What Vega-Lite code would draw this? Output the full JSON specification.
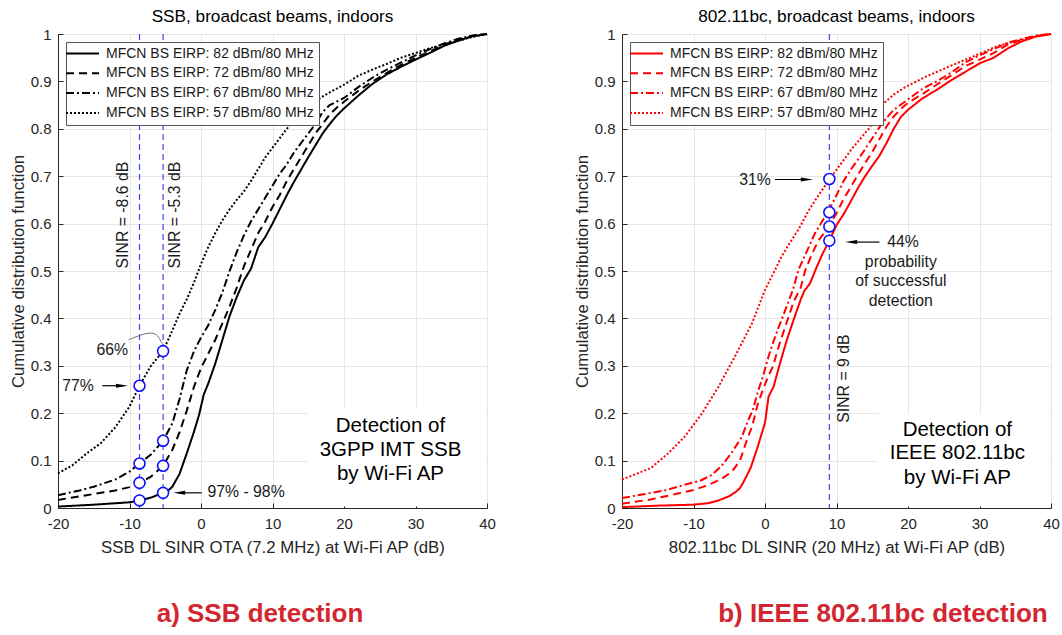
{
  "$schema": "https://vega.github.io/schema/vega-lite/v6.json",
  "background": "white",
  "padding": {"left": 9, "top": 7, "right": 3, "bottom": 5},
  "spacing": 135,
  "bounds": "flush",
  "resolve": {"scale": {"strokeDash": "independent", "x": "independent", "y": "independent"}, "legend": {"strokeDash": "independent"}},
  "config": {
    "font": "Liberation Sans",
    "view": {"stroke": "#262626", "strokeWidth": 1},
    "axis": {"labelFont": "Liberation Sans", "labelFontSize": 15, "labelColor": "#262626", "labelFlush": false, "labelOverlap": false, "titleFont": "Liberation Sans", "titleFontWeight": "normal", "titleColor": "#262626", "domainColor": "#262626", "gridColor": "#e6e6e6", "ticks": true, "tickSize": -5, "tickColor": "#262626", "tickWidth": 1},
    "axisX": {"labelPadding": 13, "titlePadding": 8, "titleFontSize": 16.8},
    "axisY": {"labelPadding": 12, "titlePadding": 3, "titleFontSize": 16.8},
    "title": {"font": "Liberation Sans", "fontSize": 17.2, "fontWeight": "normal", "color": "#000000", "offset": 2},
    "legend": {"orient": "top-left", "offset": 8, "padding": 4.5, "rowPadding": 5.8, "fillColor": "white", "strokeColor": "#555555", "labelFont": "Liberation Sans", "labelFontSize": 14, "labelColor": "#1a1a1a", "labelLimit": 400, "symbolType": "M-3,0H3", "symbolSize": 121, "symbolStrokeWidth": 2, "symbolOffset": 5, "labelOffset": 16.5, "titlePadding": 0}
  },
  "datasets": {
    "A": [
      {"s":"82","x":-20,"y":0.003},{"s":"82","x":-15,"y":0.007},{"s":"82","x":-10,"y":0.012},{"s":"82","x":-8.6,"y":0.016},{"s":"82","x":-7,"y":0.022},{"s":"82","x":-5.3,"y":0.032},{"s":"82","x":-4.5,"y":0.038},{"s":"82","x":-4,"y":0.045},{"s":"82","x":-3,"y":0.072},{"s":"82","x":-2,"y":0.115},{"s":"82","x":-1,"y":0.16},{"s":"82","x":-0.3,"y":0.195},{"s":"82","x":0.4,"y":0.24},{"s":"82","x":1,"y":0.262},{"s":"82","x":2,"y":0.305},{"s":"82","x":3,"y":0.355},{"s":"82","x":4,"y":0.405},{"s":"82","x":5,"y":0.445},{"s":"82","x":6,"y":0.48},{"s":"82","x":7,"y":0.505},{"s":"82","x":8,"y":0.55},{"s":"82","x":9,"y":0.572},{"s":"82","x":10,"y":0.6},{"s":"82","x":11,"y":0.63},{"s":"82","x":12,"y":0.66},{"s":"82","x":13,"y":0.688},{"s":"82","x":14,"y":0.714},{"s":"82","x":15,"y":0.74},{"s":"82","x":16,"y":0.765},{"s":"82","x":17,"y":0.79},{"s":"82","x":18,"y":0.81},{"s":"82","x":19,"y":0.828},{"s":"82","x":20,"y":0.843},{"s":"82","x":22,"y":0.87},{"s":"82","x":24,"y":0.895},{"s":"82","x":26,"y":0.915},{"s":"82","x":28,"y":0.931},{"s":"82","x":30,"y":0.946},{"s":"82","x":32,"y":0.96},{"s":"82","x":34,"y":0.975},{"s":"82","x":36,"y":0.986},{"s":"82","x":38,"y":0.995},{"s":"82","x":40,"y":1},
      {"s":"72","x":-20,"y":0.017},{"s":"72","x":-16,"y":0.027},{"s":"72","x":-12,"y":0.037},{"s":"72","x":-10,"y":0.044},{"s":"72","x":-8.6,"y":0.053},{"s":"72","x":-7,"y":0.066},{"s":"72","x":-5.3,"y":0.089},{"s":"72","x":-4,"y":0.123},{"s":"72","x":-3,"y":0.16},{"s":"72","x":-2,"y":0.205},{"s":"72","x":-1,"y":0.255},{"s":"72","x":0,"y":0.295},{"s":"72","x":1,"y":0.325},{"s":"72","x":2,"y":0.355},{"s":"72","x":3,"y":0.39},{"s":"72","x":4,"y":0.425},{"s":"72","x":5,"y":0.465},{"s":"72","x":6,"y":0.51},{"s":"72","x":7,"y":0.545},{"s":"72","x":8,"y":0.58},{"s":"72","x":9,"y":0.605},{"s":"72","x":10,"y":0.635},{"s":"72","x":11,"y":0.66},{"s":"72","x":12,"y":0.69},{"s":"72","x":13,"y":0.715},{"s":"72","x":14,"y":0.74},{"s":"72","x":15,"y":0.765},{"s":"72","x":16,"y":0.79},{"s":"72","x":17,"y":0.81},{"s":"72","x":18,"y":0.83},{"s":"72","x":19,"y":0.845},{"s":"72","x":20,"y":0.857},{"s":"72","x":22,"y":0.88},{"s":"72","x":24,"y":0.9},{"s":"72","x":26,"y":0.918},{"s":"72","x":28,"y":0.935},{"s":"72","x":30,"y":0.95},{"s":"72","x":32,"y":0.963},{"s":"72","x":34,"y":0.977},{"s":"72","x":36,"y":0.988},{"s":"72","x":38,"y":0.996},{"s":"72","x":40,"y":1},
      {"s":"67","x":-20,"y":0.027},{"s":"67","x":-17,"y":0.037},{"s":"67","x":-15,"y":0.045},{"s":"67","x":-12,"y":0.06},{"s":"67","x":-10,"y":0.077},{"s":"67","x":-8.6,"y":0.094},{"s":"67","x":-7,"y":0.113},{"s":"67","x":-5.3,"y":0.142},{"s":"67","x":-4,"y":0.179},{"s":"67","x":-3,"y":0.23},{"s":"67","x":-2,"y":0.29},{"s":"67","x":-1,"y":0.33},{"s":"67","x":0,"y":0.36},{"s":"67","x":1,"y":0.385},{"s":"67","x":2,"y":0.418},{"s":"67","x":3,"y":0.455},{"s":"67","x":4,"y":0.5},{"s":"67","x":5,"y":0.54},{"s":"67","x":6,"y":0.575},{"s":"67","x":7,"y":0.605},{"s":"67","x":8,"y":0.63},{"s":"67","x":9,"y":0.655},{"s":"67","x":10,"y":0.68},{"s":"67","x":11,"y":0.705},{"s":"67","x":12,"y":0.725},{"s":"67","x":13,"y":0.75},{"s":"67","x":14,"y":0.77},{"s":"67","x":15,"y":0.79},{"s":"67","x":16,"y":0.81},{"s":"67","x":17,"y":0.835},{"s":"67","x":18,"y":0.85},{"s":"67","x":20,"y":0.865},{"s":"67","x":22,"y":0.888},{"s":"67","x":24,"y":0.908},{"s":"67","x":26,"y":0.925},{"s":"67","x":28,"y":0.94},{"s":"67","x":30,"y":0.955},{"s":"67","x":32,"y":0.968},{"s":"67","x":34,"y":0.98},{"s":"67","x":36,"y":0.99},{"s":"67","x":38,"y":0.997},{"s":"67","x":40,"y":1},
      {"s":"57","x":-20,"y":0.073},{"s":"57","x":-18,"y":0.09},{"s":"57","x":-16,"y":0.115},{"s":"57","x":-14,"y":0.137},{"s":"57","x":-12,"y":0.17},{"s":"57","x":-10,"y":0.214},{"s":"57","x":-8.6,"y":0.258},{"s":"57","x":-7,"y":0.3},{"s":"57","x":-5.3,"y":0.331},{"s":"57","x":-4,"y":0.375},{"s":"57","x":-3,"y":0.41},{"s":"57","x":-2,"y":0.44},{"s":"57","x":-1,"y":0.475},{"s":"57","x":0,"y":0.515},{"s":"57","x":1,"y":0.55},{"s":"57","x":2,"y":0.58},{"s":"57","x":3,"y":0.607},{"s":"57","x":4,"y":0.63},{"s":"57","x":5,"y":0.65},{"s":"57","x":6,"y":0.668},{"s":"57","x":7,"y":0.69},{"s":"57","x":8,"y":0.715},{"s":"57","x":9,"y":0.74},{"s":"57","x":10,"y":0.76},{"s":"57","x":11,"y":0.78},{"s":"57","x":12,"y":0.8},{"s":"57","x":13,"y":0.818},{"s":"57","x":14,"y":0.835},{"s":"57","x":15,"y":0.848},{"s":"57","x":16,"y":0.858},{"s":"57","x":17,"y":0.868},{"s":"57","x":18,"y":0.877},{"s":"57","x":19,"y":0.885},{"s":"57","x":20,"y":0.893},{"s":"57","x":22,"y":0.912},{"s":"57","x":24,"y":0.925},{"s":"57","x":26,"y":0.937},{"s":"57","x":28,"y":0.95},{"s":"57","x":30,"y":0.96},{"s":"57","x":32,"y":0.97},{"s":"57","x":34,"y":0.978},{"s":"57","x":36,"y":0.986},{"s":"57","x":38,"y":0.994},{"s":"57","x":40,"y":1}
    ],
    "B": [
      {"s":"82","x":-20,"y":0.002},{"s":"82","x":-18,"y":0.003},{"s":"82","x":-15,"y":0.005},{"s":"82","x":-10,"y":0.007},{"s":"82","x":-8,"y":0.01},{"s":"82","x":-6.5,"y":0.016},{"s":"82","x":-5,"y":0.025},{"s":"82","x":-4,"y":0.035},{"s":"82","x":-3.5,"y":0.042},{"s":"82","x":-3,"y":0.055},{"s":"82","x":-2,"y":0.085},{"s":"82","x":-1,"y":0.13},{"s":"82","x":0,"y":0.18},{"s":"82","x":0.5,"y":0.235},{"s":"82","x":1.2,"y":0.256},{"s":"82","x":2,"y":0.3},{"s":"82","x":3,"y":0.352},{"s":"82","x":4,"y":0.397},{"s":"82","x":5,"y":0.44},{"s":"82","x":5.5,"y":0.458},{"s":"82","x":6.3,"y":0.474},{"s":"82","x":7,"y":0.5},{"s":"82","x":8,"y":0.535},{"s":"82","x":9,"y":0.564},{"s":"82","x":10,"y":0.597},{"s":"82","x":11,"y":0.62},{"s":"82","x":12,"y":0.647},{"s":"82","x":13,"y":0.675},{"s":"82","x":14,"y":0.7},{"s":"82","x":15,"y":0.722},{"s":"82","x":16,"y":0.743},{"s":"82","x":17,"y":0.77},{"s":"82","x":18,"y":0.8},{"s":"82","x":19,"y":0.825},{"s":"82","x":20,"y":0.84},{"s":"82","x":22,"y":0.864},{"s":"82","x":24,"y":0.882},{"s":"82","x":26,"y":0.902},{"s":"82","x":28,"y":0.92},{"s":"82","x":30,"y":0.938},{"s":"82","x":32,"y":0.95},{"s":"82","x":34,"y":0.97},{"s":"82","x":36,"y":0.985},{"s":"82","x":38,"y":0.995},{"s":"82","x":40,"y":1},
      {"s":"72","x":-20,"y":0.009},{"s":"72","x":-16,"y":0.018},{"s":"72","x":-12,"y":0.031},{"s":"72","x":-10,"y":0.038},{"s":"72","x":-8,"y":0.048},{"s":"72","x":-6,"y":0.062},{"s":"72","x":-4.6,"y":0.077},{"s":"72","x":-3.5,"y":0.1},{"s":"72","x":-2.5,"y":0.145},{"s":"72","x":-1.8,"y":0.172},{"s":"72","x":-1,"y":0.22},{"s":"72","x":-0.3,"y":0.249},{"s":"72","x":0.5,"y":0.28},{"s":"72","x":1.1,"y":0.298},{"s":"72","x":2,"y":0.345},{"s":"72","x":3,"y":0.39},{"s":"72","x":4,"y":0.435},{"s":"72","x":5,"y":0.465},{"s":"72","x":5.6,"y":0.5},{"s":"72","x":6.6,"y":0.537},{"s":"72","x":7.5,"y":0.565},{"s":"72","x":9,"y":0.594},{"s":"72","x":10,"y":0.622},{"s":"72","x":11,"y":0.652},{"s":"72","x":12,"y":0.677},{"s":"72","x":13,"y":0.703},{"s":"72","x":14,"y":0.728},{"s":"72","x":15,"y":0.751},{"s":"72","x":16,"y":0.778},{"s":"72","x":17,"y":0.805},{"s":"72","x":18,"y":0.826},{"s":"72","x":19,"y":0.842},{"s":"72","x":20,"y":0.855},{"s":"72","x":22,"y":0.873},{"s":"72","x":24,"y":0.893},{"s":"72","x":26,"y":0.912},{"s":"72","x":28,"y":0.932},{"s":"72","x":30,"y":0.946},{"s":"72","x":32,"y":0.96},{"s":"72","x":34,"y":0.978},{"s":"72","x":36,"y":0.988},{"s":"72","x":38,"y":0.996},{"s":"72","x":40,"y":1},
      {"s":"67","x":-20,"y":0.021},{"s":"67","x":-17,"y":0.029},{"s":"67","x":-14,"y":0.037},{"s":"67","x":-11,"y":0.05},{"s":"67","x":-9,"y":0.058},{"s":"67","x":-7.4,"y":0.07},{"s":"67","x":-6,"y":0.09},{"s":"67","x":-4.6,"y":0.118},{"s":"67","x":-3.2,"y":0.151},{"s":"67","x":-2.5,"y":0.18},{"s":"67","x":-1.7,"y":0.207},{"s":"67","x":-1,"y":0.245},{"s":"67","x":-0.3,"y":0.277},{"s":"67","x":0.5,"y":0.32},{"s":"67","x":1.1,"y":0.348},{"s":"67","x":2,"y":0.385},{"s":"67","x":2.5,"y":0.404},{"s":"67","x":3.9,"y":0.46},{"s":"67","x":4.7,"y":0.503},{"s":"67","x":5.8,"y":0.54},{"s":"67","x":7,"y":0.58},{"s":"67","x":8,"y":0.605},{"s":"67","x":8.8,"y":0.624},{"s":"67","x":10,"y":0.66},{"s":"67","x":11,"y":0.69},{"s":"67","x":12,"y":0.714},{"s":"67","x":13,"y":0.735},{"s":"67","x":14,"y":0.757},{"s":"67","x":15,"y":0.78},{"s":"67","x":16,"y":0.803},{"s":"67","x":17,"y":0.823},{"s":"67","x":18,"y":0.84},{"s":"67","x":20,"y":0.862},{"s":"67","x":22,"y":0.884},{"s":"67","x":24,"y":0.9},{"s":"67","x":26,"y":0.918},{"s":"67","x":28,"y":0.94},{"s":"67","x":30,"y":0.955},{"s":"67","x":32,"y":0.968},{"s":"67","x":34,"y":0.982},{"s":"67","x":36,"y":0.99},{"s":"67","x":38,"y":0.997},{"s":"67","x":40,"y":1},
      {"s":"57","x":-20,"y":0.06},{"s":"57","x":-18,"y":0.072},{"s":"57","x":-15.9,"y":0.085},{"s":"57","x":-13.5,"y":0.116},{"s":"57","x":-11.2,"y":0.151},{"s":"57","x":-8.8,"y":0.2},{"s":"57","x":-6.5,"y":0.256},{"s":"57","x":-4.2,"y":0.32},{"s":"57","x":-1.8,"y":0.39},{"s":"57","x":0,"y":0.46},{"s":"57","x":1.4,"y":0.502},{"s":"57","x":2.3,"y":0.53},{"s":"57","x":3.5,"y":0.56},{"s":"57","x":4.7,"y":0.588},{"s":"57","x":6,"y":0.625},{"s":"57","x":7.4,"y":0.658},{"s":"57","x":9,"y":0.693},{"s":"57","x":10.7,"y":0.728},{"s":"57","x":12,"y":0.755},{"s":"57","x":13.5,"y":0.782},{"s":"57","x":14.5,"y":0.8},{"s":"57","x":15.8,"y":0.83},{"s":"57","x":16.7,"y":0.855},{"s":"57","x":18,"y":0.872},{"s":"57","x":19.5,"y":0.887},{"s":"57","x":22.5,"y":0.91},{"s":"57","x":26,"y":0.933},{"s":"57","x":29.3,"y":0.954},{"s":"57","x":32.6,"y":0.975},{"s":"57","x":36.3,"y":0.989},{"s":"57","x":38,"y":0.995},{"s":"57","x":40,"y":1}
    ]
  },
  "hconcat": [
    {
      "width": 429,
      "height": 474,
      "title": {"text": "SSB, broadcast beams, indoors"},
      "layer": [
        {
          "data": {"values": [{"x": 14.9, "x2": 39.9, "y": 0.003, "y2": 0.21}]},
          "mark": {"type": "rect", "color": "white"},
          "encoding": {
            "x": {"field": "x", "type": "quantitative", "scale": {"domain": [-20, 40], "nice": false}, "axis": {"values": [-20,-10,0,10,20,30,40], "labelExpr": "'' + datum.value", "title": "SSB DL SINR OTA (7.2 MHz) at Wi-Fi AP (dB)", "grid": true}},
            "x2": {"field": "x2"},
            "y": {"field": "y", "type": "quantitative", "scale": {"domain": [0, 1], "nice": false}, "axis": {"values": [0,0.1,0.2,0.3,0.4,0.5,0.6,0.7,0.8,0.9,1], "labelExpr": "'' + datum.value", "title": "Cumulative distribution function", "grid": true}},
            "y2": {"field": "y2"}
          }
        },
        {
          "data": {"values": [{"x": -8.6}, {"x": -5.3}]},
          "mark": {"type": "rule", "color": "#4343ff", "strokeWidth": 1.2, "strokeDash": [6, 4]},
          "encoding": {"x": {"field": "x", "type": "quantitative"}}
        },
        {
          "data": {"name": "A"},
          "mark": {"type": "line", "color": "black", "strokeWidth": 2},
          "encoding": {
            "x": {"field": "x", "type": "quantitative"},
            "y": {"field": "y", "type": "quantitative"},
            "strokeDash": {"field": "s", "type": "nominal", "scale": {"domain": ["82","72","67","57"], "range": [[1,0],[8,5],[8,3,2,3],[2,2]]}, "legend": {"title": null, "labelExpr": "'MFCN BS EIRP: ' + datum.label + ' dBm/80 MHz'", "symbolStrokeColor": "black"}}
          }
        },
        {
          "data": {"values": [{"x": -10.1, "y": 0.355}, {"x": -7.5, "y": 0.371}, {"x": -6.3, "y": 0.368}, {"x": -5.8, "y": 0.358}, {"x": -5.4, "y": 0.345}]},
          "mark": {"type": "line", "color": "#707070", "strokeWidth": 1, "interpolate": "basis"},
          "encoding": {"x": {"field": "x", "type": "quantitative"}, "y": {"field": "y", "type": "quantitative"}}
        },
        {
          "data": {"values": [{"x": -8.6, "y": 0.016}, {"x": -8.6, "y": 0.053}, {"x": -8.6, "y": 0.094}, {"x": -8.6, "y": 0.258}, {"x": -5.3, "y": 0.032}, {"x": -5.3, "y": 0.089}, {"x": -5.3, "y": 0.142}, {"x": -5.3, "y": 0.331}]},
          "mark": {"type": "point", "shape": "circle", "filled": true, "fill": "white", "stroke": "#1010ff", "size": 120, "strokeWidth": 1.6, "opacity": 1, "fillOpacity": 1},
          "encoding": {"x": {"field": "x", "type": "quantitative"}, "y": {"field": "y", "type": "quantitative"}}
        },
        {
          "data": {"values": [{"x": -13.8, "x2": -11.0, "y": 0.258}, {"x": -3.05, "x2": 0.1, "y": 0.032}]},
          "mark": {"type": "rule", "color": "black", "strokeWidth": 1.2},
          "encoding": {"x": {"field": "x", "type": "quantitative"}, "x2": {"field": "x2"}, "y": {"field": "y", "type": "quantitative"}}
        },
        {
          "data": {"values": [{"x": -11.05, "y": 0.258}]},
          "mark": {"type": "point", "shape": "M-1,-0.33L1,0L-1,0.33Z", "filled": true, "color": "black", "size": 144, "opacity": 1},
          "encoding": {"x": {"field": "x", "type": "quantitative"}, "y": {"field": "y", "type": "quantitative"}}
        },
        {
          "data": {"values": [{"x": -3.05, "y": 0.032}]},
          "mark": {"type": "point", "shape": "M1,-0.33L-1,0L1,0.33Z", "filled": true, "color": "black", "size": 144, "opacity": 1},
          "encoding": {"x": {"field": "x", "type": "quantitative"}, "y": {"field": "y", "type": "quantitative"}}
        },
        {
          "data": {"values": [{"t": "66%", "x": -12.4, "y": 0.334}, {"t": "77%", "x": -17.2, "y": 0.257}, {"t": "97% - 98%", "x": 6.3, "y": 0.033}]},
          "mark": {"type": "text", "fontSize": 15.8, "color": "#1a1a1a", "font": "Liberation Sans"},
          "encoding": {"x": {"field": "x", "type": "quantitative"}, "y": {"field": "y", "type": "quantitative"}, "text": {"field": "t"}}
        },
        {
          "data": {"values": [{"t": "SINR = -8.6 dB", "x": -10.9, "y": 0.618}, {"t": "SINR = -5.3 dB", "x": -3.6, "y": 0.618}]},
          "mark": {"type": "text", "fontSize": 15.8, "angle": 270, "color": "#1a1a1a", "font": "Liberation Sans"},
          "encoding": {"x": {"field": "x", "type": "quantitative"}, "y": {"field": "y", "type": "quantitative"}, "text": {"field": "t"}}
        },
        {
          "data": {"values": [{"t": "Detection of", "x": 26.5, "y": 0.172}, {"t": "3GPP IMT SSB", "x": 26.5, "y": 0.122}, {"t": "by Wi-Fi AP", "x": 26.5, "y": 0.071}]},
          "mark": {"type": "text", "fontSize": 20.5, "color": "#000000", "font": "Liberation Sans"},
          "encoding": {"x": {"field": "x", "type": "quantitative"}, "y": {"field": "y", "type": "quantitative"}, "text": {"field": "t"}}
        },
        {
          "data": {"values": [{"t": "a) SSB detection", "x": 8.25, "y": -0.224}]},
          "mark": {"type": "text", "fontSize": 26, "fontWeight": "bold", "color": "#d22630", "font": "Liberation Sans"},
          "encoding": {"x": {"field": "x", "type": "quantitative"}, "y": {"field": "y", "type": "quantitative"}, "text": {"field": "t"}}
        }
      ]
    },
    {
      "width": 429,
      "height": 474,
      "title": {"text": "802.11bc, broadcast beams, indoors"},
      "layer": [
        {
          "data": {"values": [{"x": 15.8, "x2": 39.9, "y": 0.003, "y2": 0.2}]},
          "mark": {"type": "rect", "color": "white"},
          "encoding": {
            "x": {"field": "x", "type": "quantitative", "scale": {"domain": [-20, 40], "nice": false}, "axis": {"values": [-20,-10,0,10,20,30,40], "labelExpr": "'' + datum.value", "title": "802.11bc DL SINR (20 MHz) at Wi-Fi AP (dB)", "grid": true}},
            "x2": {"field": "x2"},
            "y": {"field": "y", "type": "quantitative", "scale": {"domain": [0, 1], "nice": false}, "axis": {"values": [0,0.1,0.2,0.3,0.4,0.5,0.6,0.7,0.8,0.9,1], "labelExpr": "'' + datum.value", "title": "Cumulative distribution function", "grid": true}},
            "y2": {"field": "y2"}
          }
        },
        {
          "data": {"values": [{"x": 9}]},
          "mark": {"type": "rule", "color": "#4343ff", "strokeWidth": 1.2, "strokeDash": [6, 4]},
          "encoding": {"x": {"field": "x", "type": "quantitative"}}
        },
        {
          "data": {"name": "B"},
          "mark": {"type": "line", "color": "#ff0000", "strokeWidth": 2},
          "encoding": {
            "x": {"field": "x", "type": "quantitative"},
            "y": {"field": "y", "type": "quantitative"},
            "strokeDash": {"field": "s", "type": "nominal", "scale": {"domain": ["82","72","67","57"], "range": [[1,0],[8,5],[8,3,2,3],[2,2]]}, "legend": {"title": null, "labelExpr": "'MFCN BS EIRP: ' + datum.label + ' dBm/80 MHz'", "symbolStrokeColor": "#ff0000"}}
          }
        },
        {
          "data": {"values": [{"x": 9, "y": 0.564}, {"x": 9, "y": 0.594}, {"x": 9, "y": 0.624}, {"x": 9, "y": 0.694}]},
          "mark": {"type": "point", "shape": "circle", "filled": true, "fill": "white", "stroke": "#1010ff", "size": 120, "strokeWidth": 1.6, "opacity": 1, "fillOpacity": 1},
          "encoding": {"x": {"field": "x", "type": "quantitative"}, "y": {"field": "y", "type": "quantitative"}}
        },
        {
          "data": {"values": [{"x": 1.4, "x2": 5.9, "y": 0.693}, {"x": 12.05, "x2": 16.0, "y": 0.561}]},
          "mark": {"type": "rule", "color": "black", "strokeWidth": 1.2},
          "encoding": {"x": {"field": "x", "type": "quantitative"}, "x2": {"field": "x2"}, "y": {"field": "y", "type": "quantitative"}}
        },
        {
          "data": {"values": [{"x": 5.85, "y": 0.693}]},
          "mark": {"type": "point", "shape": "M-1,-0.33L1,0L-1,0.33Z", "filled": true, "color": "black", "size": 144, "opacity": 1},
          "encoding": {"x": {"field": "x", "type": "quantitative"}, "y": {"field": "y", "type": "quantitative"}}
        },
        {
          "data": {"values": [{"x": 12.05, "y": 0.561}]},
          "mark": {"type": "point", "shape": "M1,-0.33L-1,0L1,0.33Z", "filled": true, "color": "black", "size": 144, "opacity": 1},
          "encoding": {"x": {"field": "x", "type": "quantitative"}, "y": {"field": "y", "type": "quantitative"}}
        },
        {
          "data": {"values": [{"t": "31%", "x": -1.4, "y": 0.693}, {"t": "44%", "x": 19.3, "y": 0.561}, {"t": "probability", "x": 19.0, "y": 0.52}, {"t": "of successful", "x": 19.0, "y": 0.478}, {"t": "detection", "x": 19.0, "y": 0.436}]},
          "mark": {"type": "text", "fontSize": 15.8, "color": "#1a1a1a", "font": "Liberation Sans"},
          "encoding": {"x": {"field": "x", "type": "quantitative"}, "y": {"field": "y", "type": "quantitative"}, "text": {"field": "t"}}
        },
        {
          "data": {"values": [{"t": "SINR = 9 dB", "x": 11.0, "y": 0.273}]},
          "mark": {"type": "text", "fontSize": 15.8, "angle": 270, "color": "#1a1a1a", "font": "Liberation Sans"},
          "encoding": {"x": {"field": "x", "type": "quantitative"}, "y": {"field": "y", "type": "quantitative"}, "text": {"field": "t"}}
        },
        {
          "data": {"values": [{"t": "Detection of", "x": 26.9, "y": 0.165}, {"t": "IEEE 802.11bc", "x": 26.9, "y": 0.115}, {"t": "by Wi-Fi AP", "x": 26.9, "y": 0.064}]},
          "mark": {"type": "text", "fontSize": 20.5, "color": "#000000", "font": "Liberation Sans"},
          "encoding": {"x": {"field": "x", "type": "quantitative"}, "y": {"field": "y", "type": "quantitative"}, "text": {"field": "t"}}
        },
        {
          "data": {"values": [{"t": "b) IEEE 802.11bc detection", "x": 16.5, "y": -0.224}]},
          "mark": {"type": "text", "fontSize": 26, "fontWeight": "bold", "color": "#d22630", "font": "Liberation Sans"},
          "encoding": {"x": {"field": "x", "type": "quantitative"}, "y": {"field": "y", "type": "quantitative"}, "text": {"field": "t"}}
        }
      ]
    }
  ]
}
